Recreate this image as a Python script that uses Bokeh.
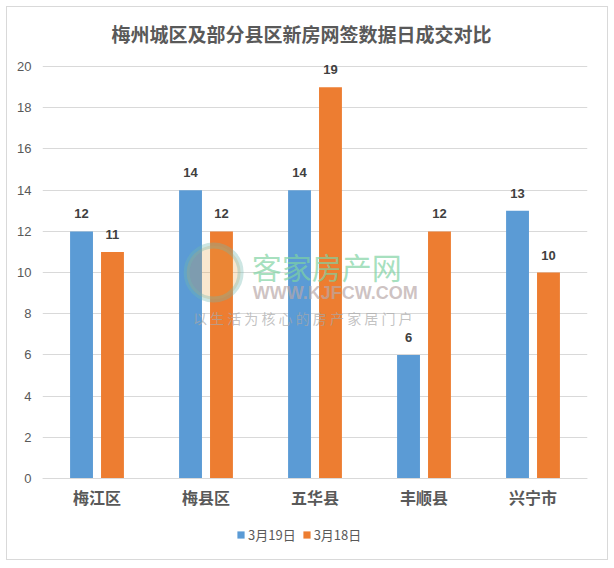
from bokeh.plotting import figure
from bokeh.models import (ColumnDataSource, LabelSet, Legend, LegendItem, Range1d,
                          FactorRange, Title, Label, FixedTicker)
from bokeh.core.properties import value
from bokeh.transform import dodge
from bokeh.embed import file_html
from bokeh.resources import INLINE

title_text = "梅州城区及部分县区新房网签数据日成交对比"
categories = ["梅江区", "梅县区", "五华县", "丰顺县", "兴宁市"]
series_names = ["3月19日", "3月18日"]
mar19 = [12, 14, 14, 6, 13]
mar18 = [11, 12, 19, 12, 10]
y_ticks = [0, 2, 4, 6, 8, 10, 12, 14, 16, 18, 20]

BLUE = "#5B9BD5"
ORANGE = "#ED7D31"
GREY = "#595959"
CJK = "Noto Sans CJK SC"

src = ColumnDataSource(dict(cat=categories, a=mar19, b=mar18,
                            la=[str(v) for v in mar19], lb=[str(v) for v in mar18]))

# frame extends below zero (category labels, legend) and a little above 20 (data labels)
p = figure(x_range=FactorRange(*categories, range_padding=0), y_range=Range1d(-3.93, 20.49),
           frame_width=545, frame_height=503,
           min_border_left=35, min_border_right=20, min_border_top=49, min_border_bottom=0,
           output_backend="svg", toolbar_location=None,
           margin=(6, 0, 0, 6), styles={"border": "1px solid #D9D9D9"})

p.add_layout(Title(text=title_text, align="left", text_font=CJK, text_font_size="19px",
                   text_font_style="bold", text_color=GREY, offset=69, standoff=20), "above")

p.outline_line_color = None
p.background_fill_color = "white"
p.border_fill_color = "white"

w = 0.21
off = 0.142
r1 = p.vbar(x=dodge("cat", -off, range=p.x_range), top="a", bottom=0, width=w, source=src,
            fill_color=BLUE, line_color=None)
r2 = p.vbar(x=dodge("cat", off, range=p.x_range), top="b", bottom=0, width=w, source=src,
            fill_color=ORANGE, line_color=None)

for fld, lab, o in (("a", "la", -off), ("b", "lb", off)):
    p.add_layout(LabelSet(x=dodge("cat", o, range=p.x_range), y=fld, text=lab, source=src,
                          y_offset=13, text_align="center", text_baseline="bottom",
                          text_font=value("Liberation Sans"), text_font_size=value("13px"),
                          text_font_style="bold", text_color="#404040"))

# watermark
p.add_layout(Label(x=1.92, y=10.3, text="客家房产网", text_font=CJK, text_font_size="30px",
                   text_color="#7FD3A3", text_alpha=0.7, text_baseline="middle"))
p.add_layout(Label(x=1.93, y=9.0, text="WWW.KJFCW.COM", text_font="Liberation Sans",
                   text_font_size="18px", text_font_style="bold", text_color="#B8A8A8",
                   text_alpha=0.7, text_baseline="middle"))
p.add_layout(Label(x=1.38, y=7.8, text="以 生 活 为 核 心 的 房 产 家 居 门 户", text_font=CJK,
                   text_font_size="14px", text_color="#A8A8A8", text_alpha=0.7,
                   text_baseline="middle"))
p.scatter(x=[1.57], y=[10.0], size=54, marker="circle", fill_color="#E8A040",
          fill_alpha=0.25, line_color="#6FB8B0", line_alpha=0.35, line_width=6)

p.xgrid.grid_line_color = None
p.ygrid.grid_line_color = "#D9D9D9"
p.ygrid.grid_line_width = 1
p.yaxis.ticker = FixedTicker(ticks=y_ticks)
p.yaxis.axis_line_color = None
p.yaxis.major_tick_line_color = None
p.yaxis.minor_tick_line_color = None
p.yaxis.major_label_text_font = "Liberation Sans"
p.yaxis.major_label_text_font_size = "13px"
p.yaxis.major_label_text_color = GREY
p.yaxis.major_label_standoff = 5

p.xaxis.fixed_location = 0
p.xaxis.axis_line_color = "#D9D9D9"
p.xaxis.major_tick_line_color = None
p.xaxis.minor_tick_line_color = None
p.xaxis.major_label_text_font = CJK
p.xaxis.major_label_text_font_size = "16px"
p.xaxis.major_label_text_font_style = "bold"
p.xaxis.major_label_text_color = GREY
p.xaxis.major_label_standoff = 0

legend = Legend(items=[LegendItem(label=series_names[0], renderers=[r1]),
                       LegendItem(label=series_names[1], renderers=[r2])],
                orientation="horizontal", location=(194, 15),
                glyph_width=9, glyph_height=9, label_height=20, label_text_font=CJK,
                label_text_font_size="13px", label_text_color=GREY,
                spacing=6, label_standoff=3, border_line_color=None,
                background_fill_alpha=0, padding=0, margin=0)
p.add_layout(legend)

open("out.html", "w").write(file_html(p, INLINE))
